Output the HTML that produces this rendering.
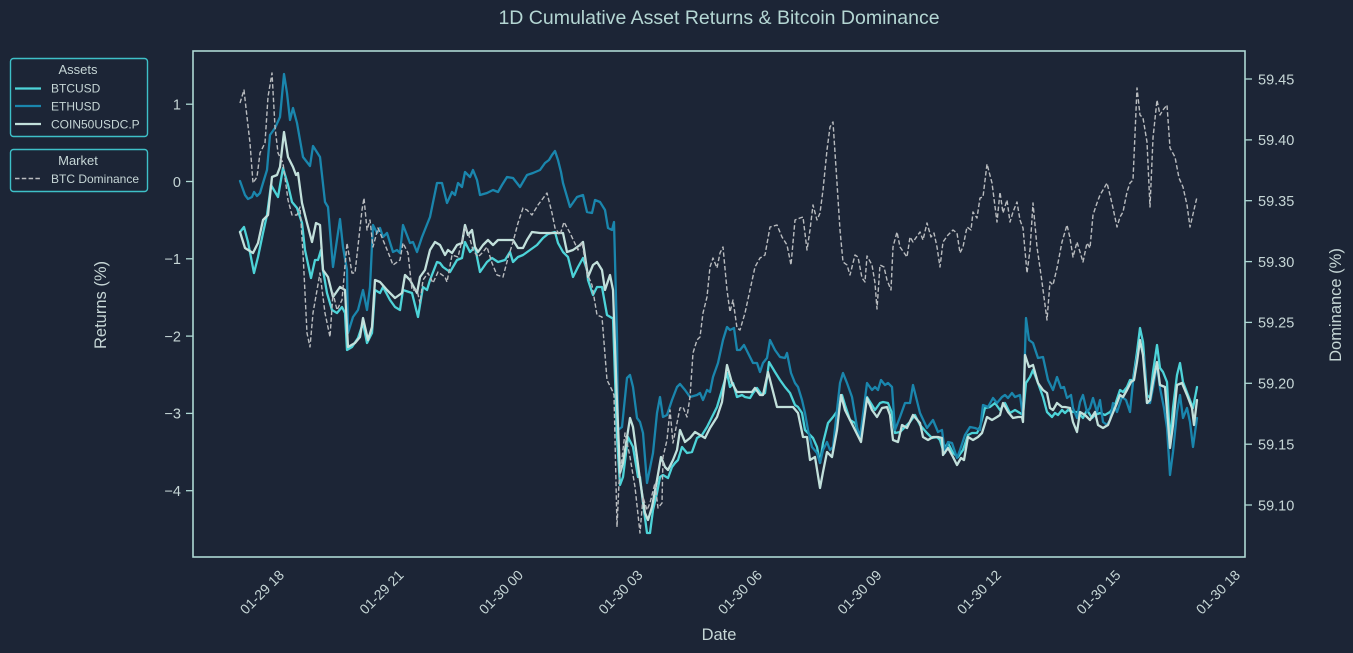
<!DOCTYPE html>
<html>
<head>
<meta charset="utf-8">
<style>
html,body{margin:0;padding:0;background:#1c2536;}
svg{display:block;}
text{font-family:"Liberation Sans",Arial,sans-serif;}
</style>
</head>
<body>
<svg width="1353" height="653" viewBox="0 0 1353 653" xmlns="http://www.w3.org/2000/svg">
<rect x="0" y="0" width="1353" height="653" fill="#1c2536"/>

<!-- Title -->
<text x="719" y="24" text-anchor="middle" font-size="19.5" fill="#b4d6d3">1D Cumulative Asset Returns &amp; Bitcoin Dominance</text>

<!-- Series (clipped to plot) -->
<defs><clipPath id="pc"><rect x="193" y="51" width="1052" height="506"/></clipPath></defs>
<g clip-path="url(#pc)" fill="none" stroke-linejoin="round" stroke-linecap="round">
<polyline stroke="#4dd3d8" stroke-width="2.3" points="240,232 244,227 248,242 254,273 258,257 263,233 267,215 271,185 278,197 283,168 288,185 292,202 297,208 302,223 305,250 311,278 315,260 318,260 321,250 323,270 327,293 332,310 337,313 342,307 345,313 347,350 352,347 358,338 363,323 367,343 372,333 375,290 380,293 383,287 390,300 395,307 400,310 403,290 412,293 418,317 423,287 427,290 430,280 437,262 440,263 443,267 450,272 457,260 462,258 465,242 470,252 475,247 480,272 487,262 492,258 498,262 505,260 510,252 513,262 518,257 523,255 530,250 537,245 543,238 548,234 555,232 558,243 563,252 568,257 573,277 578,267 583,258 587,270 588,280 593,295 597,287 602,287 607,315 612,318 613,318 617,437 620,485 623,477 628,437 633,447 638,477 640,477 643,503 647,533 650,533 653,510 657,493 660,477 663,475 668,478 672,467 675,463 678,460 682,447 687,453 692,452 697,438 702,435 707,427 712,417 717,407 722,390 727,373 730,387 733,383 737,397 742,395 745,397 750,398 753,393 757,388 762,395 765,393 769,362 775,372 780,380 785,387 790,393 795,405 798,407 802,413 805,430 808,433 813,438 817,447 820,463 823,443 828,423 833,417 838,410 842,395 845,405 850,420 855,423 860,437 867,397 872,405 875,410 880,403 883,402 888,403 892,413 895,433 900,432 905,427 910,422 915,415 920,425 927,433 932,438 937,437 940,440 943,450 948,443 953,453 958,457 963,450 968,435 972,433 977,433 980,427 985,408 990,407 995,403 1000,410 1005,403 1010,413 1015,410 1020,413 1023,415 1026,383 1030,377 1033,370 1038,383 1043,397 1047,412 1052,417 1055,413 1058,415 1062,410 1065,413 1068,410 1073,412 1078,412 1083,418 1087,410 1092,418 1095,415 1100,413 1105,415 1110,412 1115,405 1120,390 1123,392 1127,387 1130,380 1133,380 1137,352 1140,328 1143,342 1147,395 1150,398 1153,372 1157,345 1160,368 1163,372 1167,382 1170,442 1173,408 1177,375 1180,363 1183,382 1188,395 1193,408 1197,387"/>
<polyline stroke="#1a86ad" stroke-width="2.3" points="240,181 245,195 248,199 252,197 254,192 257,196 260,193 263,183 267,170 270,135 275,128 280,117 284,74 287,93 290,120 293,108 297,123 303,157 310,166 313,146 320,157 325,202 328,207 333,267 340,219 343,247 347,270 348,333 353,317 358,310 363,290 367,310 370,287 373,225 377,233 380,228 383,237 387,233 393,252 397,250 400,253 403,225 410,243 413,242 417,252 422,237 430,217 437,183 442,183 447,203 452,192 455,195 458,183 462,187 465,172 470,177 473,170 477,180 480,195 487,193 493,190 498,192 502,185 507,177 513,178 520,187 527,175 533,173 540,170 545,163 549,160 552,155 555,151 558,160 561,172 563,183 570,207 577,197 583,195 587,212 592,213 595,200 600,202 605,210 608,228 612,230 614,222 617,337 618,430 622,427 627,378 630,375 633,387 637,418 640,422 643,433 647,483 653,453 657,413 660,397 663,417 667,415 672,400 677,387 680,384 685,390 690,397 697,395 700,393 703,400 707,390 710,392 713,377 718,363 723,340 727,327 730,330 734,328 737,350 740,350 744,345 748,353 753,363 757,363 760,372 763,363 767,358 770,340 775,350 780,357 785,358 787,353 791,373 795,383 798,387 802,400 805,413 808,430 812,447 817,453 820,463 823,450 827,442 830,450 833,447 837,410 840,383 843,373 847,383 852,397 857,427 860,438 867,383 872,390 875,387 878,390 881,380 885,385 888,383 892,387 895,430 900,417 905,403 910,403 913,385 920,413 927,428 933,420 938,432 942,430 945,453 948,442 952,443 957,458 960,450 965,435 970,427 975,428 980,430 983,405 988,407 993,398 997,403 1002,397 1005,395 1008,398 1012,393 1015,397 1020,395 1023,417 1026,318 1029,340 1033,343 1038,358 1043,357 1048,380 1053,390 1057,377 1061,388 1064,387 1067,398 1071,395 1073,408 1077,418 1080,402 1083,395 1087,412 1090,408 1093,398 1097,412 1100,400 1103,422 1107,425 1110,420 1113,403 1117,412 1122,397 1126,400 1130,412 1133,382 1137,358 1140,342 1144,358 1147,403 1150,403 1153,388 1157,365 1160,388 1164,408 1167,428 1170,475 1173,452 1177,412 1180,395 1183,418 1187,408 1190,422 1193,447 1197,418"/>
<polyline stroke="#c2e0db" stroke-width="2.3" points="240,232 245,248 253,253 258,243 263,220 268,215 272,177 277,175 280,167 284,132 288,157 293,167 296,175 298,173 302,203 307,223 312,242 316,223 320,225 323,270 328,277 333,297 340,287 345,290 348,347 355,343 360,337 363,318 368,340 372,327 375,280 380,282 387,290 395,298 402,293 405,275 410,280 417,293 420,277 425,270 430,250 435,242 440,245 445,255 448,250 452,253 457,245 462,243 465,225 468,235 472,230 475,247 478,252 483,245 488,240 493,245 498,240 507,240 513,240 518,248 523,248 527,240 532,232 540,233 547,233 563,233 567,252 573,250 580,245 583,242 588,277 593,265 597,262 602,270 605,290 610,275 613,290 617,403 620,473 623,463 630,418 633,427 637,457 640,480 645,513 648,520 652,507 657,480 661,457 665,467 668,470 673,460 677,450 680,430 685,442 690,438 695,432 700,435 705,438 710,428 717,417 722,402 727,365 732,383 737,392 743,392 752,392 755,388 760,395 763,395 768,372 777,407 783,407 793,407 798,413 803,437 807,437 810,460 815,457 820,488 823,472 827,452 832,457 837,430 841,395 845,410 850,420 855,430 861,442 867,398 872,410 877,417 882,408 887,407 890,415 893,440 898,442 902,425 907,428 913,415 920,423 923,437 928,440 933,437 938,437 942,438 943,455 948,448 953,457 957,465 961,458 964,460 968,437 973,440 978,437 982,433 987,417 992,420 997,417 1000,415 1003,403 1008,412 1013,418 1018,417 1022,417 1023,422 1025,355 1029,367 1033,365 1038,383 1043,390 1047,393 1050,408 1053,410 1057,403 1062,407 1065,407 1070,408 1073,422 1077,432 1080,412 1085,415 1090,420 1095,412 1098,425 1103,428 1108,425 1112,415 1117,403 1120,395 1123,397 1127,390 1131,382 1134,380 1137,362 1140,340 1143,355 1147,403 1150,400 1153,382 1157,362 1160,385 1165,387 1168,422 1170,448 1173,425 1177,385 1182,383 1187,395 1192,408 1194,425 1197,400"/>
<polyline stroke="#b9bcbf" stroke-width="1.4" stroke-dasharray="4.5 2.3" stroke-linecap="butt" points="240,103 244,90 247,117 250,143 253,183 257,177 260,153 265,143 268,97 272,73 275,127 278,153 283,163 288,200 292,215 297,215 300,207 303,253 307,333 310,347 313,313 320,273 325,313 330,337 333,293 337,310 342,300 347,243 352,273 355,273 362,210 364,198 367,230 370,220 373,247 378,228 383,240 388,252 393,265 400,260 403,243 408,253 412,290 417,290 420,303 423,280 428,273 433,283 438,272 445,277 447,282 452,255 458,257 465,228 468,232 473,250 478,257 483,252 487,247 492,263 497,275 503,277 508,258 513,242 518,223 523,208 527,210 532,215 538,205 547,193 552,213 555,228 560,235 564,222 570,233 578,250 582,242 587,273 592,285 597,315 602,317 607,380 612,390 614,395 617,527 619,483 625,433 630,457 635,487 640,533 643,497 647,510 650,503 655,483 658,508 662,503 663,457 667,440 670,410 673,443 677,423 680,408 683,407 687,417 690,397 693,353 697,340 700,337 703,313 707,297 710,267 713,258 717,268 720,253 723,247 727,290 730,312 733,300 737,328 740,330 745,313 750,290 755,267 760,258 765,255 770,227 777,225 782,237 787,245 791,265 795,220 800,218 803,217 807,250 810,230 813,205 817,220 820,213 823,190 827,150 830,127 833,122 837,183 840,230 843,262 847,265 850,275 855,255 858,257 862,278 865,282 867,256 872,265 875,283 877,309 880,265 884,267 887,280 891,290 893,247 897,232 900,247 907,257 910,237 913,242 920,232 923,240 927,223 931,237 934,233 937,247 940,267 943,242 948,235 953,230 957,233 960,253 963,247 967,227 971,230 973,212 977,218 980,198 983,197 987,164 992,183 997,222 1000,192 1003,213 1007,200 1010,222 1013,212 1017,202 1020,220 1023,228 1027,273 1030,250 1033,203 1037,247 1042,282 1047,320 1050,282 1053,285 1057,268 1062,242 1067,225 1070,238 1073,257 1077,242 1080,252 1083,262 1087,243 1090,248 1093,215 1097,203 1100,195 1103,190 1107,183 1110,195 1113,208 1117,227 1120,217 1123,212 1127,192 1130,183 1133,180 1137,88 1140,115 1143,118 1147,142 1150,207 1153,138 1157,100 1160,115 1163,110 1167,105 1170,148 1175,157 1179,178 1183,187 1187,205 1190,227 1197,197"/>
</g>

<!-- Frame -->
<rect x="193" y="51" width="1052" height="506" fill="none" stroke="#aed9d4" stroke-width="1.6"/>

<!-- Left ticks -->
<g stroke="#aed9d4" stroke-width="1.3">
<line x1="186" y1="104.2" x2="193" y2="104.2"/>
<line x1="186" y1="181.5" x2="193" y2="181.5"/>
<line x1="186" y1="258.8" x2="193" y2="258.8"/>
<line x1="186" y1="336.1" x2="193" y2="336.1"/>
<line x1="186" y1="413.4" x2="193" y2="413.4"/>
<line x1="186" y1="490.7" x2="193" y2="490.7"/>
</g>
<g font-size="14.5" fill="#c6d6d6" text-anchor="end">
<text x="181" y="109.5">1</text>
<text x="181" y="186.8">0</text>
<text x="181" y="264.1">−1</text>
<text x="181" y="341.4">−2</text>
<text x="181" y="418.7">−3</text>
<text x="181" y="496">−4</text>
</g>

<!-- Right ticks -->
<g stroke="#aed9d4" stroke-width="1.3">
<line x1="1245" y1="79" x2="1252" y2="79"/>
<line x1="1245" y1="139.9" x2="1252" y2="139.9"/>
<line x1="1245" y1="200.7" x2="1252" y2="200.7"/>
<line x1="1245" y1="261.6" x2="1252" y2="261.6"/>
<line x1="1245" y1="322.4" x2="1252" y2="322.4"/>
<line x1="1245" y1="383.3" x2="1252" y2="383.3"/>
<line x1="1245" y1="444.2" x2="1252" y2="444.2"/>
<line x1="1245" y1="505" x2="1252" y2="505"/>
</g>
<g font-size="14.5" fill="#c6d6d6">
<text x="1258" y="84.3">59.45</text>
<text x="1258" y="145.2">59.40</text>
<text x="1258" y="206">59.35</text>
<text x="1258" y="266.9">59.30</text>
<text x="1258" y="327.7">59.25</text>
<text x="1258" y="388.6">59.20</text>
<text x="1258" y="449.5">59.15</text>
<text x="1258" y="510.3">59.10</text>
</g>

<!-- X tick labels -->
<g font-size="14" fill="#c6d6d6" text-anchor="end">
<text x="285" y="576" transform="rotate(-45 285 576)">01-29 18</text>
<text x="404.5" y="576" transform="rotate(-45 404.5 576)">01-29 21</text>
<text x="524" y="576" transform="rotate(-45 524 576)">01-30 00</text>
<text x="643.5" y="576" transform="rotate(-45 643.5 576)">01-30 03</text>
<text x="763" y="576" transform="rotate(-45 763 576)">01-30 06</text>
<text x="882.5" y="576" transform="rotate(-45 882.5 576)">01-30 09</text>
<text x="1002" y="576" transform="rotate(-45 1002 576)">01-30 12</text>
<text x="1121.5" y="576" transform="rotate(-45 1121.5 576)">01-30 15</text>
<text x="1241" y="576" transform="rotate(-45 1241 576)">01-30 18</text>
</g>

<!-- Axis labels -->
<text x="719" y="640" text-anchor="middle" font-size="16.5" fill="#c6d6d6">Date</text>
<text x="106" y="305" text-anchor="middle" font-size="16.5" fill="#c6d6d6" transform="rotate(-90 106 305)">Returns (%)</text>
<text x="1341" y="305" text-anchor="middle" font-size="16.5" fill="#c6d6d6" transform="rotate(-90 1341 305)">Dominance (%)</text>

<!-- Legend: Assets -->
<rect x="10.5" y="58.5" width="137" height="78" rx="3" ry="3" fill="#1c2536" stroke="#3ec0c8" stroke-width="1.4"/>
<text x="78" y="74" text-anchor="middle" font-size="13" fill="#c6d6d6">Assets</text>
<line x1="15" y1="88.5" x2="41" y2="88.5" stroke="#4dd3d8" stroke-width="2.3"/>
<text x="51" y="92.5" font-size="12" fill="#c6d6d6">BTCUSD</text>
<line x1="15" y1="106" x2="41" y2="106" stroke="#1a86ad" stroke-width="2.3"/>
<text x="51" y="110.5" font-size="12" fill="#c6d6d6">ETHUSD</text>
<line x1="15" y1="124" x2="41" y2="124" stroke="#c2e0db" stroke-width="2.3"/>
<text x="51" y="128.5" font-size="12" fill="#c6d6d6">COIN50USDC.P</text>

<!-- Legend: Market -->
<rect x="10.5" y="149.5" width="137" height="42" rx="3" ry="3" fill="#1c2536" stroke="#3ec0c8" stroke-width="1.4"/>
<text x="78" y="165" text-anchor="middle" font-size="13" fill="#c6d6d6">Market</text>
<line x1="15" y1="178.5" x2="41" y2="178.5" stroke="#b9bcbf" stroke-width="1.4" stroke-dasharray="4.5 2.3"/>
<text x="51" y="183" font-size="12" fill="#c6d6d6">BTC Dominance</text>
</svg>
</body>
</html>
